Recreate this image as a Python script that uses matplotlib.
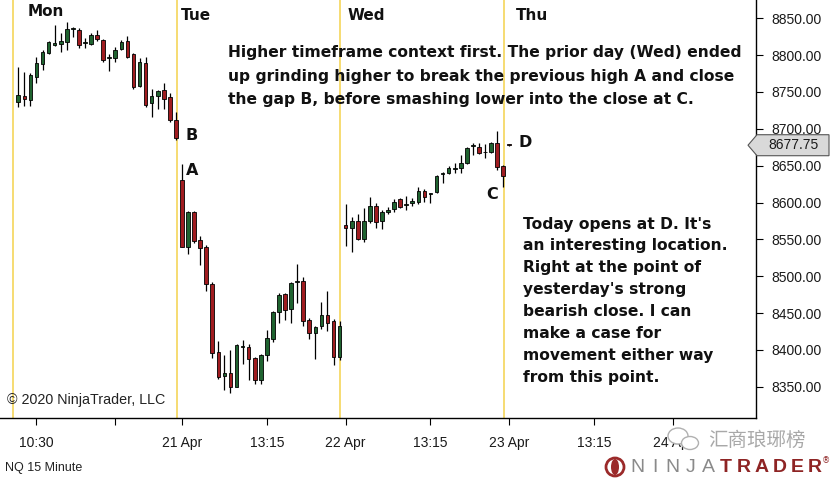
import matplotlib
matplotlib.use('Agg')
import matplotlib.pyplot as plt
from matplotlib.patches import Rectangle, Polygon, Ellipse
from matplotlib.transforms import blended_transform_factory
import numpy as np

# NQ 15 minute bars: Mon, Tue, Wed sessions (27 bars each) + first bar of Thu
opens = [8736.4, 8744.6, 8739.1, 8770.8, 8787.6, 8802.5, 8814.2, 8814.7, 8818.3, 8834.8,
         8834.1, 8815.8, 8814.7, 8827.3, 8820.6, 8796.1, 8795.7, 8807.9, 8819.6, 8801.6,
         8758.1, 8789.8, 8734.7, 8744.2, 8752.0, 8742.8, 8712.4,
         8630.6, 8540.3, 8586.5, 8549.6, 8539.3, 8489.9, 8396.9, 8364.6, 8369.1, 8349.7,
         8403.3, 8404.4, 8388.5, 8359.1, 8393.1, 8414.4, 8451.9, 8475.9, 8455.1, 8492.0,
         8493.9, 8440.6, 8422.6, 8432.5, 8447.4, 8439.7, 8390.8,
         8569.0, 8565.0, 8575.3, 8550.1, 8575.3, 8595.3, 8575.3, 8587.2, 8590.8, 8604.4,
         8596.0, 8600.0, 8601.1, 8616.1, 8610.9, 8614.7, 8638.1, 8639.7, 8644.8, 8646.4,
         8653.2, 8676.5, 8675.8, 8667.9, 8669.0, 8680.4, 8649.6,
         8679.0]
highs = [8783.9, 8777.1, 8775.4, 8797.9, 8807.0, 8819.2, 8840.9, 8829.6, 8845.4, 8838.6,
         8836.4, 8823.7, 8829.4, 8834.1, 8821.9, 8801.2, 8811.1, 8820.6, 8826.0, 8802.5,
         8795.7, 8797.1, 8753.7, 8753.0, 8762.2, 8749.0, 8723.3,
         8651.6, 8588.1, 8588.5, 8554.6, 8541.7, 8492.6, 8411.8, 8393.1, 8400.5, 8407.4,
         8413.1, 8407.4, 8390.0, 8394.5, 8427.0, 8453.2, 8476.8, 8477.6, 8492.6, 8516.6,
         8498.6, 8442.9, 8432.5, 8465.4, 8480.4, 8441.6, 8439.7,
         8598.0, 8580.8, 8584.5, 8592.2, 8607.1, 8598.9, 8589.9, 8594.3, 8604.4, 8605.8,
         8608.9, 8605.8, 8620.7, 8618.0, 8613.4, 8637.4, 8641.9, 8649.6, 8653.2, 8664.5,
         8674.9, 8680.4, 8680.4, 8679.4, 8682.5, 8697.5, 8650.9,
         8680.0]
lows = [8729.6, 8731.0, 8731.4, 8761.8, 8779.8, 8801.2, 8812.8, 8803.9, 8807.0, 8825.0,
        8810.1, 8809.3, 8813.8, 8819.2, 8791.1, 8778.5, 8791.1, 8807.0, 8795.7, 8753.7,
        8756.4, 8730.0, 8716.0, 8726.5, 8726.9, 8709.7, 8685.4,
        8539.3, 8530.2, 8545.1, 8515.3, 8480.4, 8389.3, 8360.8, 8346.2, 8342.0, 8349.3,
        8381.3, 8359.3, 8353.8, 8353.8, 8385.4, 8411.2, 8436.9, 8440.6, 8436.9, 8464.1,
        8432.5, 8414.4, 8387.3, 8428.0, 8426.1, 8379.5, 8386.4,
        8541.0, 8533.3, 8549.2, 8546.9, 8571.8, 8565.0, 8563.7, 8584.5, 8587.6, 8592.2,
        8589.9, 8595.3, 8598.0, 8601.1, 8598.9, 8613.4, 8626.1, 8638.7, 8639.7, 8640.5,
        8652.3, 8664.5, 8665.9, 8660.0, 8667.6, 8644.2, 8620.7,
        8676.5]
closes = [8745.9, 8739.8, 8773.1, 8788.9, 8803.9, 8817.4, 8816.1, 8819.2, 8835.5, 8836.2,
          8813.8, 8817.2, 8827.3, 8821.9, 8793.4, 8797.5, 8807.0, 8818.3, 8797.1, 8756.4,
          8790.7, 8732.3, 8743.9, 8751.8, 8740.8, 8711.6, 8687.8,
          8540.1, 8586.8, 8548.2, 8537.9, 8489.9, 8395.4, 8363.3, 8369.1, 8349.3, 8406.7,
          8405.3, 8387.1, 8359.1, 8393.1, 8415.8, 8451.9, 8474.5, 8454.2, 8491.2, 8493.0,
          8439.7, 8422.6, 8431.5, 8447.4, 8437.0, 8390.0, 8432.5,
          8566.0, 8575.3, 8550.1, 8575.3, 8595.3, 8574.0, 8587.6, 8589.9, 8601.1, 8594.3,
          8597.4, 8602.1, 8616.1, 8608.0, 8612.3, 8636.0, 8640.1, 8646.4, 8646.2, 8653.2,
          8673.6, 8677.4, 8667.6, 8669.0, 8680.4, 8648.6, 8636.0,
          8677.75]

session_breaks = [-1, 26, 53, 80]
day_names = ['Mon', 'Tue', 'Wed', 'Thu']
time_ticks = [3, 16, 27, 41, 54, 68, 81, 95, 108]
time_labels = ['10:30', '', '21 Apr', '13:15', '22 Apr', '13:15', '23 Apr', '13:15', '24 Apr']
price_ticks = [8350, 8400, 8450, 8500, 8550, 8600, 8650, 8700, 8750, 8800, 8850]
last_price = 8677.75

point_labels = ['B', 'A', 'C', 'D']
point_bars = [28.6, 28.7, 78.1, 83.6]
point_prices = [8691.6, 8642.8, 8610.9, 8681.5]

note_top = ["Higher timeframe context first. The prior day (Wed) ended",
            "up grinding higher to break the previous high A and close",
            "the gap B, before smashing lower into the close at C."]
note_side = ["Today opens at D. It's", "an interesting location.", "Right at the point of",
             "yesterday's strong", "bearish close. I can", "make a case for",
             "movement either way", "from this point."]

W, H = 830, 482
UP = '#1f6330'
DOWN = '#a01c20'
YELLOW = '#f6dc72'

fig = plt.figure(figsize=(W / 100, H / 100), dpi=100)
fig.patch.set_facecolor('white')
ax = fig.add_axes([0, 64 / H, 756 / W, 418 / H])
ax.set_xlim(-3.02, 121.7)
ax.set_ylim(8307.6, 8874.8)

def fx(px):
    return px / W

def fy(py):
    return 1 - py / H

# session break lines
for b in session_breaks:
    ax.axvline(b + 0.15, color=YELLOW, lw=1.4, zorder=1)

# candles
for i in range(len(opens)):
    o, h, l, c = opens[i], highs[i], lows[i], closes[i]
    ax.plot([i, i], [l, h], color='black', lw=0.9, zorder=2, solid_capstyle='butt')
    col = UP if c >= o else DOWN
    bot = min(o, c)
    hgt = max(abs(c - o), 1.0)
    ax.add_patch(Rectangle((i - 0.3, bot), 0.6, hgt, facecolor=col,
                           edgecolor='black', lw=0.6, zorder=3))

for s in ['left', 'top']:
    ax.spines[s].set_visible(False)
for s in ['right', 'bottom']:
    ax.spines[s].set_linewidth(1.0)

ax.yaxis.tick_right()
ax.set_yticks(price_ticks)
ax.set_yticklabels([f'{p:.2f}' for p in price_ticks])
ax.tick_params(axis='y', direction='out', length=5, width=0.8, pad=6,
               labelsize=10, labelcolor='#1a1a1a')
ax.set_xticks(time_ticks)
ax.set_xticklabels(time_labels)
ax.tick_params(axis='x', direction='out', length=5, width=0.8, pad=8,
               labelsize=10, labelcolor='#1a1a1a')
for lab in ax.get_xticklabels() + ax.get_yticklabels():
    lab.set_fontfamily('Liberation Sans')

# last price marker
tr = blended_transform_factory(ax.transAxes, ax.transData)
dpx = 756.0
half = 10.5 * (8874.8 - 8307.6) / 418
marker = Polygon([(748 / dpx, last_price), (757 / dpx, last_price + half),
                  (829 / dpx, last_price + half), (829 / dpx, last_price - half),
                  (757 / dpx, last_price - half)], closed=True, transform=tr,
                 facecolor='#d9d9d9', edgecolor='#555555', lw=0.8, clip_on=False, zorder=10)
ax.add_patch(marker)
ax.text(768 / dpx, last_price, f'{last_price:.2f}', transform=tr, ha='left', va='center',
        fontsize=10, family='Liberation Sans', color='#1a1a1a', zorder=11, clip_on=False)

# day names
day_x = [28, 181, 348, 516]
day_y = [11, 16, 16, 16]
for name, x, y in zip(day_names, day_x, day_y):
    fig.text(fx(x), fy(y), name, ha='left', va='center', fontsize=11,
             fontweight='bold', color='#111111')

# point letters
for lab, xb, yp in zip(point_labels, point_bars, point_prices):
    ax.text(xb, yp, lab, ha='center', va='center', fontsize=11.5,
            fontweight='bold', color='#111111')

# notes
for k, line in enumerate(note_top):
    fig.text(fx(228), fy(53 + k * 23.2), line, ha='left', va='center',
             fontsize=11.2, fontweight='bold', color='#111111')
for k, line in enumerate(note_side):
    fig.text(fx(523), fy(224 + k * 21.9), line, ha='left', va='center',
             fontsize=11.2, fontweight='bold', color='#111111')

fig.text(fx(7), fy(400), '\u00a9 2020 NinjaTrader, LLC', ha='left', va='center',
         fontsize=10.3, family='Liberation Sans', color='#222222')
fig.text(fx(5), fy(468), 'NQ 15 Minute', ha='left', va='center',
         fontsize=9, family='Liberation Sans', color='#222222')

# watermark
wm = fig.add_axes([0, 0, 1, 1], facecolor='none')
wm.set_xlim(0, W)
wm.set_ylim(H, 0)
wm.axis('off')
wm.add_patch(Ellipse((678, 436), 20, 16, facecolor='white', edgecolor='#b0b0b0', lw=1.0))
wm.add_patch(Ellipse((690, 443), 17, 13, facecolor='white', edgecolor='#b0b0b0', lw=1.0))
wm.text(708, 440, '汇商琅琊榜', ha='left', va='center', fontsize=14,
        family=['Noto Sans CJK SC', 'DejaVu Sans'], color='#a8a8a8')

# logo
wm.add_patch(Ellipse((615, 467), 18, 18, facecolor='none', edgecolor='#9b2a2a', lw=2.0))
wm.add_patch(Ellipse((615, 467), 8, 16, facecolor='#9b2a2a', edgecolor='none'))
for k, ch in enumerate('NINJATRADER'):
    bold = k >= 5
    wm.text(637 + k * 17.8, 467, ch, ha='center', va='center', fontsize=14,
            family='Liberation Sans', fontweight='bold' if bold else 'normal',
            color='#8e2424' if bold else '#8a8a8a')
wm.text(826, 461, '\u00ae', ha='center', va='center', fontsize=6, color='#8e2424')

fig.savefig('out.png', dpi=100, facecolor='white')
